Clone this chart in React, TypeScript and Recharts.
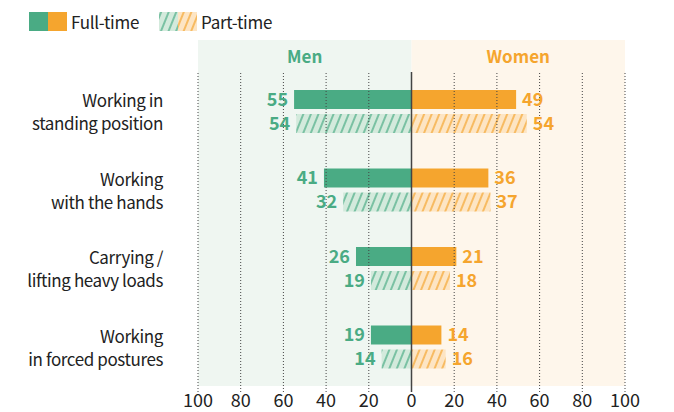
import React from 'react';
import {
  BarChart, Bar, XAxis, YAxis, ReferenceArea, ReferenceLine, LabelList,
} from 'recharts';

const categories = [
  ['Working in', 'standing position'],
  ['Working', 'with the hands'],
  ['Carrying /', 'lifting heavy loads'],
  ['Working', 'in forced postures'],
];
const menFull = [55, 41, 26, 19];
const menPart = [54, 32, 19, 14];
const womenFull = [49, 36, 21, 14];
const womenPart = [54, 37, 18, 16];
const xTicks = [-100, -80, -60, -40, -20, 0, 20, 40, 60, 80, 100];

const GREEN = '#4aab84';
const ORANGE = '#f5a52e';
const FONT = '"Noto Sans CJK KR", "Noto Sans", sans-serif';

// men go left as negative numbers, women right
const data = categories.map((c, i) => ({
  name: c.join('|'),
  menFull: -menFull[i],
  womenFull: womenFull[i],
  menPart: -menPart[i],
  womenPart: womenPart[i],
}));

const EXTEND = 32; // shaded header sits above the plot area
const GRID_GAP = 6; // gridlines start a little below plot top

const CategoryTick = (props: any) => {
  const { x, y, payload } = props;
  const [l1, l2] = String(payload.value).split('|');
  return (
    <text x={x - 27} y={y} textAnchor="end" fill="#222" fontSize={17} fontFamily={FONT} letterSpacing={-0.4}>
      <tspan x={x - 27} dy={-4}>{l1}</tspan>
      <tspan x={x - 27} dy={23}>{l2}</tspan>
    </text>
  );
};

const GridLine = (props: any) => {
  const { x1, x2, y1, y2 } = props;
  return <line x1={x1} x2={x2} y1={y1 + GRID_GAP} y2={y2} stroke="#444" strokeWidth={1} strokeDasharray="1 2" />;
};

const CenterLine = (props: any) => {
  const { x1, x2, y1, y2 } = props;
  return <line x1={x1} x2={x2} y1={y1 + GRID_GAP} y2={y2} stroke="#444" strokeWidth={1.5} />;
};

const headerShape = (title: string, bg: string, color: string) => (props: any) => {
  const { x, y, width, height } = props;
  return (
    <g>
      <rect x={x} y={y - EXTEND} width={width} height={height + EXTEND} fill={bg} />
      <text x={x + width / 2} y={y - EXTEND + 23} textAnchor="middle" fill={color} fontSize={17} fontWeight={700} fontFamily={FONT}>
        {title}
      </text>
    </g>
  );
};

const Legend = () => (
  <div style={{ position: 'absolute', top: 12, left: 29, display: 'flex', alignItems: 'center', fontFamily: FONT, fontSize: 17, color: '#222', letterSpacing: -0.3, lineHeight: '19px' }}>
    <svg width={38} height={19} style={{ marginRight: 4 }}>
      <rect x={0} y={0} width={19} height={19} fill={GREEN} />
      <rect x={19} y={0} width={19} height={19} fill={ORANGE} />
    </svg>
    <span style={{ marginRight: 20 }}>Full-time</span>
    <svg width={38} height={19} style={{ marginRight: 4 }}>
      <rect x={0} y={0} width={19} height={19} fill="url(#hatchGreen)" />
      <rect x={19} y={0} width={19} height={19} fill="url(#hatchOrange)" />
    </svg>
    <span>Part-time</span>
  </div>
);

const abs = (v: any) => Math.abs(Number(v));

export default function App() {
  return (
    <div style={{ position: 'absolute', left: 0, top: 0, width: 674, height: 412, background: '#fff' }}>
      <svg width={0} height={0} style={{ position: 'absolute' }}>
        <defs>
          <pattern id="hatchGreen" width={7} height={10} patternUnits="userSpaceOnUse" patternTransform="rotate(22)">
            <rect width={7} height={10} fill="#d3eadc" />
            <line x1={2} y1={0} x2={2} y2={10} stroke={GREEN} strokeWidth={1.3} />
          </pattern>
          <pattern id="hatchOrange" width={7} height={10} patternUnits="userSpaceOnUse" patternTransform="rotate(22)">
            <rect width={7} height={10} fill="#fde5c4" />
            <line x1={2} y1={0} x2={2} y2={10} stroke={ORANGE} strokeWidth={1.3} />
          </pattern>
        </defs>
      </svg>
      <Legend />
      <BarChart
        width={674}
        height={412}
        data={data}
        layout="vertical"
        stackOffset="sign"
        barSize={19}
        barGap={5}
        barCategoryGap={17}
        margin={{ top: 72, right: 49, bottom: 0, left: 0 }}
        style={{ position: 'absolute', left: 0, top: 0 }}
      >
        <ReferenceArea x1={-100} x2={0} fillOpacity={1} shape={headerShape('Men', '#eff6f1', GREEN) as any} />
        <ReferenceArea x1={0} x2={100} fillOpacity={1} shape={headerShape('Women', '#fef6eb', ORANGE) as any} />
        {xTicks.filter((t) => t !== 0).map((t) => (
          <ReferenceLine key={t} x={t} shape={GridLine as any} />
        ))}
        <XAxis
          type="number"
          domain={[-100, 100]}
          ticks={xTicks}
          tickFormatter={abs}
          axisLine={false}
          tickLine={false}
          height={26}
          tick={{ fill: '#222', fontSize: 18, fontFamily: FONT }}
          interval={0}
        />
        <YAxis
          type="category"
          dataKey="name"
          width={198}
          axisLine={false}
          tickLine={false}
          tick={<CategoryTick />}
        />
        <Bar dataKey="menFull" stackId="full" fill={GREEN} isAnimationActive={false}>
          <LabelList dataKey="menFull" position="right" offset={6} formatter={abs} fill={GREEN} fontSize={18} fontWeight={700} fontFamily={FONT} />
        </Bar>
        <Bar dataKey="womenFull" stackId="full" fill={ORANGE} isAnimationActive={false}>
          <LabelList dataKey="womenFull" position="right" offset={6} formatter={abs} fill={ORANGE} fontSize={18} fontWeight={700} fontFamily={FONT} />
        </Bar>
        <Bar dataKey="menPart" stackId="part" fill="url(#hatchGreen)" isAnimationActive={false}>
          <LabelList dataKey="menPart" position="right" offset={6} formatter={abs} fill={GREEN} fontSize={18} fontWeight={700} fontFamily={FONT} />
        </Bar>
        <Bar dataKey="womenPart" stackId="part" fill="url(#hatchOrange)" isAnimationActive={false}>
          <LabelList dataKey="womenPart" position="right" offset={6} formatter={abs} fill={ORANGE} fontSize={18} fontWeight={700} fontFamily={FONT} />
        </Bar>
        <ReferenceLine x={0} shape={CenterLine as any} />
      </BarChart>
    </div>
  );
}
